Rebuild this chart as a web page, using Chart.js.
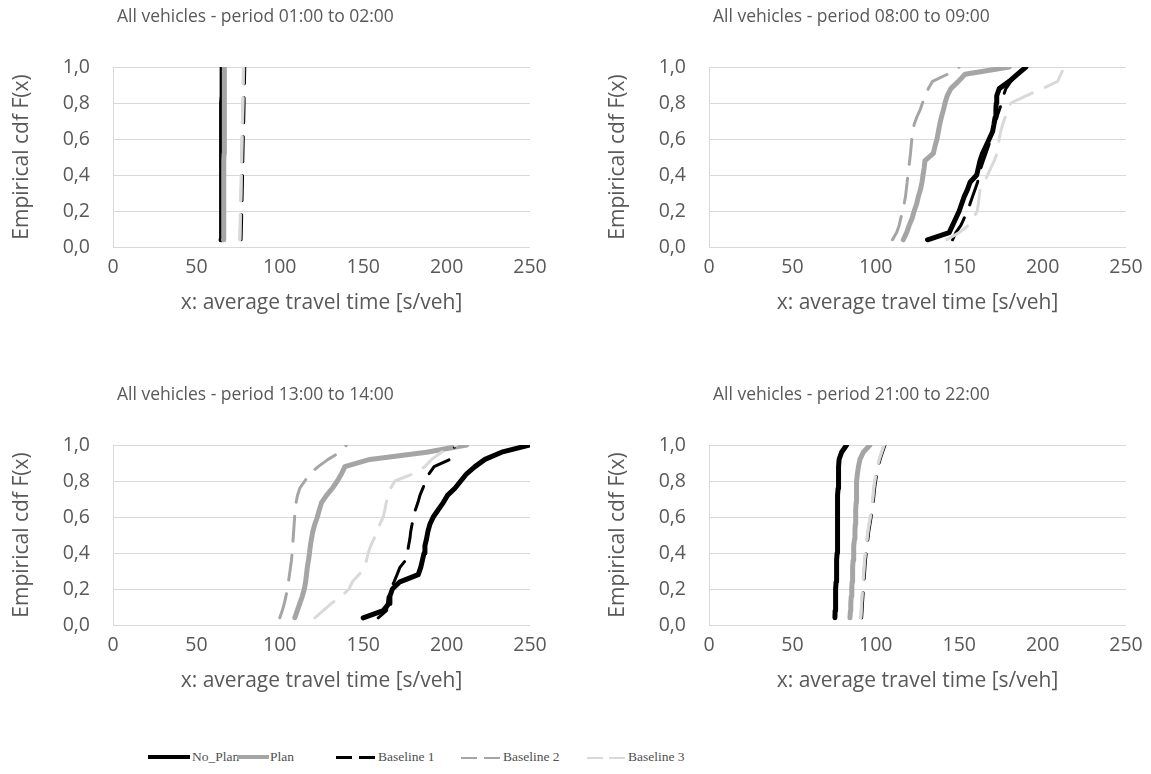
<!DOCTYPE html>
<html lang="en">
<head>
  <meta charset="UTF-8">
  <title>Empirical cdf of average travel time</title>
  <script src="https://cdn.jsdelivr.net/npm/chart.js"></script>
  <style>
    body {
      margin: 0;
      background: #ffffff;
      width: 1151px;
      height: 774px;
      position: relative;
      overflow: hidden;
    }
    canvas { position: absolute; }
    #c1 { left: 0; top: 0; }
    #c2 { left: 596px; top: 0; }
    #c3 { left: 0; top: 378px; }
    #c4 { left: 596px; top: 378px; }
    .legend {
      position: absolute;
      top: 749px;
      left: 0;
      font-family: "Liberation Serif", serif;
      font-size: 13.5px;
      color: #505050;
    }
    .item { position: absolute; top: 0; white-space: nowrap; line-height: 16px; }
    .seg { position: absolute; top: 8px; }
  </style>
</head>
<body>
  <canvas id="c1" width="575" height="330"></canvas>
  <canvas id="c2" width="575" height="330"></canvas>
  <canvas id="c3" width="575" height="330"></canvas>
  <canvas id="c4" width="575" height="330"></canvas>

  <div class="legend">
    <div class="seg" style="left:148px;width:42px;border-top:4px solid #000;margin-top:-2px"></div>
    <div class="item" style="left:192px">No_Plan</div>
    <div class="seg" style="left:237px;width:32px;border-top:4px solid #a5a5a5;margin-top:-2px"></div>
    <div class="item" style="left:270px">Plan</div>
    <div class="seg" style="left:336px;width:16px;border-top:3px solid #000;margin-top:-1px"></div>
    <div class="seg" style="left:359px;width:16px;border-top:3px solid #000;margin-top:-1px"></div>
    <div class="item" style="left:378px">Baseline 1</div>
    <div class="seg" style="left:461px;width:16px;border-top:2px solid #a5a5a5"></div>
    <div class="seg" style="left:484px;width:16px;border-top:2px solid #a5a5a5"></div>
    <div class="item" style="left:503px">Baseline 2</div>
    <div class="seg" style="left:587px;width:16px;border-top:2px solid #d9d9d9"></div>
    <div class="seg" style="left:609px;width:16px;border-top:2px solid #d9d9d9"></div>
    <div class="item" style="left:628px">Baseline 3</div>
  </div>

  <script>
    const seriesNames = ['No_Plan', 'Plan', 'Baseline 1', 'Baseline 2', 'Baseline 3'];
    const panelTitles = [
      'All vehicles - period 01:00 to 02:00',
      'All vehicles - period 08:00 to 09:00',
      'All vehicles - period 13:00 to 14:00',
      'All vehicles - period 21:00 to 22:00'
    ];
    const xTickLabels = ['0', '50', '100', '150', '200', '250'];
    const yTickLabels = ['0,0', '0,2', '0,4', '0,6', '0,8', '1,0'];

    // empirical cdf levels F(x)
    const cdfLevels = [0.04, 0.08, 0.12, 0.16, 0.20, 0.24, 0.28, 0.32, 0.36, 0.40, 0.44, 0.48, 0.52,
      0.56, 0.60, 0.64, 0.68, 0.72, 0.76, 0.80, 0.84, 0.88, 0.92, 0.96, 1.00];

    // travel times [s/veh] at each level, period 01:00 to 02:00
    const p1NoPlan = [64.8, 64.8, 64.9, 64.9, 64.9, 65.0, 65.0, 65.0, 65.1, 65.1, 65.1, 65.1, 65.2, 65.2, 65.2, 65.2, 65.3, 65.3, 65.3, 65.3, 65.4, 65.4, 65.4, 65.4, 65.5];
    const p1Plan = [66.2, 66.2, 66.3, 66.3, 66.3, 66.4, 66.4, 66.4, 66.5, 66.5, 66.5, 66.5, 66.6, 66.6, 66.6, 66.6, 66.7, 66.7, 66.7, 66.8, 66.8, 66.8, 66.9, 66.9, 67.0];
    const p1Base1 = [76.8, 76.9, 77.0, 77.1, 77.2, 77.3, 77.4, 77.5, 77.6, 77.7, 77.7, 77.8, 77.9, 78.0, 78.1, 78.2, 78.3, 78.4, 78.5, 78.6, 78.6, 78.7, 78.8, 78.9, 79.0];
    const p1Base2 = [76.2, 76.3, 76.4, 76.5, 76.6, 76.7, 76.8, 76.9, 77.0, 77.0, 77.1, 77.2, 77.3, 77.4, 77.5, 77.6, 77.7, 77.8, 77.9, 78.0, 78.1, 78.1, 78.2, 78.3, 78.4];
    const p1Base3 = [76.0, 76.1, 76.2, 76.3, 76.4, 76.5, 76.6, 76.7, 76.8, 76.9, 77.0, 77.1, 77.1, 77.2, 77.3, 77.4, 77.5, 77.6, 77.7, 77.8, 77.9, 78.0, 78.0, 78.1, 78.2];

    // period 08:00 to 09:00
    const p2NoPlan = [131, 144, 146, 148, 150, 151.5, 153, 155, 156.5, 160.5, 161.5, 162.5, 164, 166, 168, 170, 170.8, 171.5, 172, 172.2, 172.5, 174, 180, 185, 190];
    const p2Plan = [116.5, 118.5, 120, 121.8, 123, 124.5, 125.5, 126.8, 127.7, 128.3, 129, 129.5, 134.5, 135.5, 136.7, 137.5, 138.3, 139.3, 140.5, 141.5, 142.8, 145, 149.5, 153.5, 180];
    const p2Base1 = [146, 148, 151, 153, 155, 156.5, 158, 159.5, 161, 162, 163, 164.5, 166, 167.5, 169, 170, 171, 172.5, 174, 175.5, 176.5, 178, 181, 185, 188];
    const p2Base2 = [110, 112.5, 114, 115, 116, 117, 117.8, 118.3, 118.8, 119.2, 119.8, 120.3, 120.8, 121.2, 121.6, 122, 123, 124.5, 126.5, 128, 129.5, 131.5, 134, 143, 150];
    const p2Base3 = [142.5, 150, 155.5, 158.5, 160.8, 161.5, 162, 162.5, 165, 167, 169, 171, 172.7, 173.3, 174, 174.8, 176, 177.5, 178.7, 181, 190, 200, 209, 211, 213];

    // period 13:00 to 14:00
    const p3NoPlan = [150, 162, 165.5, 166, 167.5, 172, 183, 184.5, 185.5, 186.5, 187, 188, 188.8, 190, 192, 195, 198, 200.5, 205, 208.5, 212, 217, 223, 233, 250];
    const p3Plan = [109, 110.5, 112, 113.5, 114.7, 115.5, 116, 116.5, 117.2, 117.8, 118.3, 119, 119.8, 121, 122.5, 123.7, 125, 128, 131.5, 134.5, 137, 139, 154, 188, 212];
    const p3Base1 = [159, 164, 164.5, 165, 166.5, 168.5, 170.3, 172, 175.5, 176.5, 177.2, 178, 178.5, 179.3, 180, 181.3, 182.8, 184, 185.8, 187.5, 189.5, 192.5, 202, 204, 205];
    const p3Base2 = [100, 101.5, 102.7, 103.7, 104.5, 105.2, 105.8, 106.4, 107, 107.4, 107.7, 108, 108.3, 108.6, 108.9, 109.1, 109.8, 110.6, 112, 115, 118, 123, 129, 136, 140];
    const p3Base3 = [121, 126, 131, 137, 141.5, 143.5, 147.5, 151, 152, 153, 154.5, 156.5, 158.5, 160, 162, 163, 163.8, 164.8, 166.5, 169, 180, 187, 191, 197, 206];

    // period 21:00 to 22:00
    const p4NoPlan = [75.5, 75.6, 75.8, 75.9, 76.0, 76.2, 76.3, 76.5, 76.7, 76.8, 76.8, 76.9, 77.0, 77.0, 77.1, 77.2, 77.2, 77.3, 77.4, 77.5, 77.7, 77.8, 78.0, 79.5, 82.5];
    const p4Plan = [84.5, 84.8, 85.0, 85.3, 85.6, 85.8, 86.0, 86.2, 86.4, 86.6, 86.9, 87.3, 87.5, 87.7, 87.9, 88.0, 88.2, 88.3, 88.5, 88.6, 89.0, 89.6, 90.5, 92.5, 96.5];
    const p4Base1 = [91.5, 91.8, 92.0, 92.3, 92.6, 92.9, 93.2, 93.5, 93.8, 94.3, 94.8, 95.3, 95.8, 96.5, 97.2, 97.9, 98.4, 98.9, 99.3, 99.9, 100.7, 101.5, 102.6, 104.0, 105.5];
    const p4Base2 = [91.1, 91.4, 91.6, 91.9, 92.2, 92.5, 92.8, 93.1, 93.4, 93.9, 94.4, 94.9, 95.4, 96.1, 96.8, 97.5, 98.0, 98.5, 98.9, 99.5, 100.3, 101.1, 102.2, 103.6, 105.1];
    const p4Base3 = [90.9, 91.2, 91.4, 91.7, 92.0, 92.3, 92.6, 92.9, 93.2, 93.7, 94.2, 94.7, 95.2, 95.9, 96.6, 97.3, 97.8, 98.3, 98.7, 99.3, 100.1, 100.9, 102.0, 103.4, 104.9];

    const panels = [
      [p1NoPlan, p1Plan, p1Base1, p1Base2, p1Base3],
      [p2NoPlan, p2Plan, p2Base1, p2Base2, p2Base3],
      [p3NoPlan, p3Plan, p3Base1, p3Base2, p3Base3],
      [p4NoPlan, p4Plan, p4Base1, p4Base2, p4Base3]
    ];

    const styles = [
      { color: '#000000', width: 5, dash: [] },
      { color: '#a5a5a5', width: 5, dash: [] },
      { color: '#000000', width: 3, dash: [25, 14] },
      { color: '#a5a5a5', width: 3, dash: [25, 14] },
      { color: '#d9d9d9', width: 3, dash: [25, 14] }
    ];

    const textColor = '#595959';
    const fontFamily = '"Open Sans", sans-serif';

    // nudge the panel title a few px right of the plot edge, like the original
    const titleNudge = {
      id: 'titleNudge',
      afterLayout(chart) {
        const t = chart.titleBlock;
        if (t) { t.left += 4; t.right += 4; }
      }
    };

    function buildChart(canvasId, idx) {
      const datasets = panels[idx].map((xs, i) => ({
        label: seriesNames[i],
        data: xs.map((x, j) => ({ x: x, y: cdfLevels[j] })),
        borderColor: styles[i].color,
        borderWidth: styles[i].width,
        borderDash: styles[i].dash,
        borderCapStyle: 'round',
        borderJoinStyle: 'round',
        pointRadius: 0,
        tension: 0,
        fill: false,
        order: 5 - i   // later series drawn over earlier ones
      }));

      return new Chart(document.getElementById(canvasId), {
        type: 'line',
        data: { datasets: datasets },
        plugins: [titleNudge],
        options: {
          responsive: false,
          animation: false,
          devicePixelRatio: 1,
          layout: { padding: { left: 0, right: 45, top: 0, bottom: 0 } },
          plugins: {
            legend: { display: false },
            tooltip: { enabled: false },
            title: {
              display: true,
              text: panelTitles[idx],
              align: 'start',
              fullSize: false,
              color: textColor,
              font: { family: fontFamily, size: 17.5, weight: 'normal' },
              padding: { top: 7, bottom: 39 }
            }
          },
          scales: {
            x: {
              type: 'linear',
              min: 0,
              max: 250,
              afterFit: (s) => { s.height = 83; },
              afterBuildTicks: (s) => {
                s.ticks = xTickLabels.map(v => ({ value: Number(v) }));
              },
              grid: { display: false, drawTicks: false },
              border: { display: false },
              ticks: {
                padding: 9,
                color: textColor,
                font: { family: fontFamily, size: 19.5 },
                callback: (v, i) => xTickLabels[i]
              },
              title: {
                display: true,
                text: 'x: average travel time [s/veh]',
                color: textColor,
                font: { family: fontFamily, size: 21 },
                padding: { top: 4, bottom: 14 }
              }
            },
            y: {
              min: 0,
              max: 1,
              afterFit: (s) => { s.width = 113; },
              afterBuildTicks: (s) => {
                s.ticks = yTickLabels.map(v => ({ value: Number(v.replace(',', '.')) }));
              },
              grid: { color: '#d9d9d9', lineWidth: 1, drawTicks: false },
              border: { display: true, color: '#d9d9d9', width: 1 },
              ticks: {
                padding: 23,
                color: textColor,
                font: { family: fontFamily, size: 19.5 },
                callback: (v, i) => yTickLabels[i]
              },
              title: {
                display: true,
                text: 'Empirical cdf F(x)',
                color: textColor,
                font: { family: fontFamily, size: 21 },
                padding: { top: 9, bottom: 4 }
              }
            }
          }
        }
      });
    }

    buildChart('c1', 0);
    buildChart('c2', 1);
    buildChart('c3', 2);
    buildChart('c4', 3);
  </script>
</body>
</html>
